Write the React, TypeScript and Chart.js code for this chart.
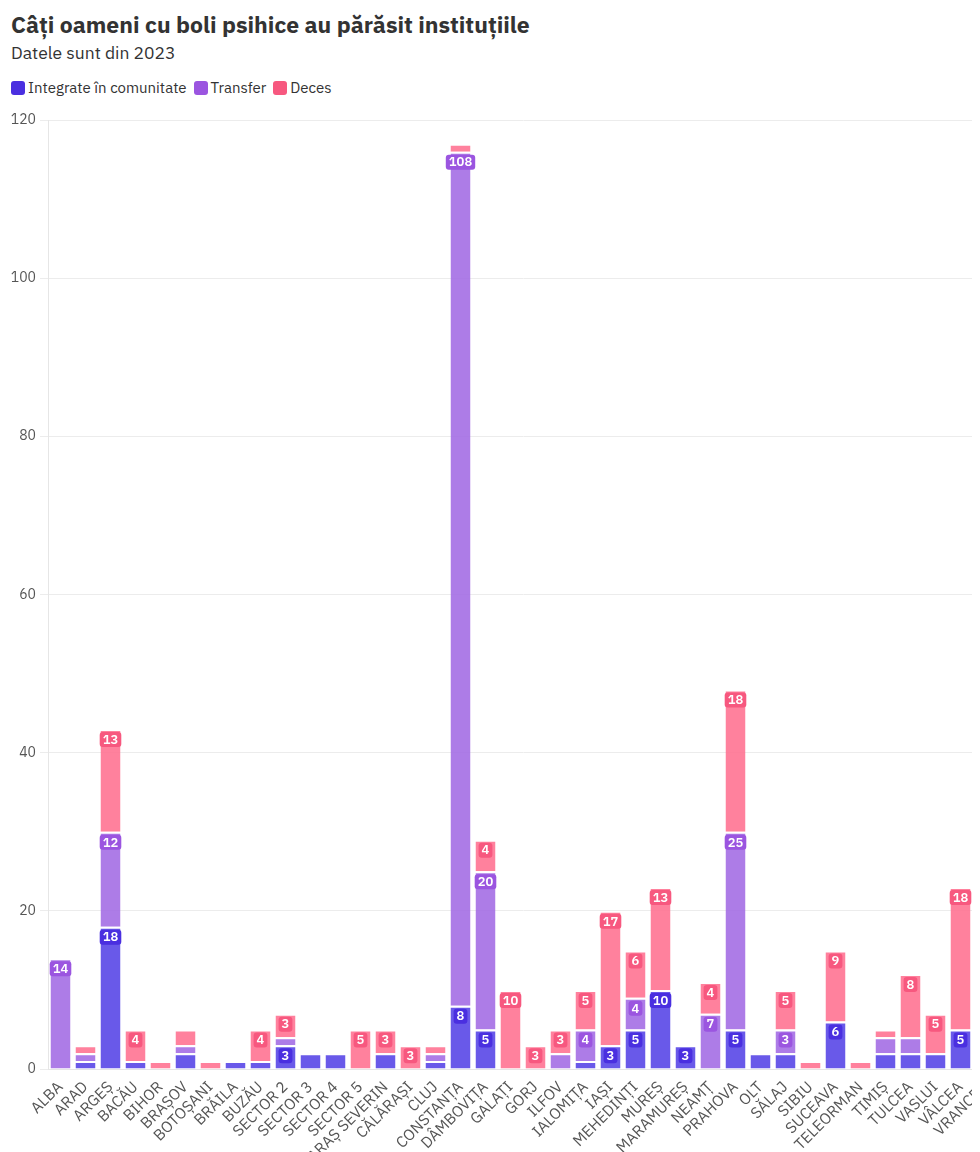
import React, { useEffect, useRef } from "react";
import { Chart, registerables } from "chart.js";

Chart.register(...registerables);

const categories = [
  "ALBA", "ARAD", "ARGEȘ", "BACĂU", "BIHOR", "BRAȘOV", "BOTOȘANI", "BRĂILA", "BUZĂU",
  "SECTOR 2", "SECTOR 3", "SECTOR 4", "SECTOR 5", "CARAȘ SEVERIN", "CĂLĂRAȘI", "CLUJ",
  "CONSTANȚA", "DÂMBOVIȚA", "GALAȚI", "GORJ", "ILFOV", "IALOMIȚA", "IAȘI", "MEHEDINȚI",
  "MUREȘ", "MARAMUREȘ", "NEAMȚ", "PRAHOVA", "OLT", "SĂLAJ", "SIBIU", "SUCEAVA",
  "TELEORMAN", "TIMIȘ", "TULCEA", "VASLUI", "VÂLCEA", "VRANCEA",
];

const integrate = [
  0, 1, 18, 1, 0, 2, 0, 1, 1,
  3, 2, 2, 0, 2, 0, 1,
  8, 5, 0, 0, 0, 1, 3, 5,
  10, 3, 0, 5, 2, 2, 0, 6,
  0, 2, 2, 2, 5, 6,
];

const transfer = [
  14, 1, 12, 0, 0, 1, 0, 0, 0,
  1, 0, 0, 0, 0, 0, 1,
  108, 20, 0, 0, 2, 4, 0, 4,
  0, 0, 7, 25, 0, 3, 0, 0,
  0, 2, 2, 0, 0, 0,
];

const deces = [
  0, 1, 13, 4, 1, 2, 1, 0, 4,
  3, 0, 0, 5, 3, 3, 1,
  1, 4, 10, 3, 3, 5, 17, 6,
  13, 0, 4, 18, 0, 5, 1, 9,
  1, 1, 8, 5, 18, 5,
];

const seriesNames = ["Integrate în comunitate", "Transfer", "Deces"];
const solidColors = ["#4a2fe0", "#9b55e0", "#f7587f"];
const barColors = ["rgba(84,66,230,0.88)", "rgba(162,106,228,0.88)", "rgba(255,112,144,0.88)"];
const yTicks = [0, 20, 40, 60, 80, 100, 120];

const FONT = "'IBM Plex Sans', 'Open Sans', 'Noto Sans', sans-serif";

const labelPlugin = {
  id: "segLabels",
  afterDatasetsDraw(chart: any) {
    const ctx = chart.ctx;
    ctx.save();
    ctx.font = `600 13px ${FONT}`;
    ctx.textAlign = "center";
    ctx.textBaseline = "middle";
    chart.data.datasets.forEach((ds: any, di: number) => {
      const meta = chart.getDatasetMeta(di);
      meta.data.forEach((el: any, i: number) => {
        const v = ds.data[i];
        if (!v || v < 3) return;
        const txt = String(v);
        const w = ctx.measureText(txt).width + 6;
        const h = 15;
        const cy = el.y + 10.5;
        const x = el.x - w / 2;
        const y = cy - h / 2;
        ctx.fillStyle = solidColors[di];
        ctx.beginPath();
        if (ctx.roundRect) ctx.roundRect(x, y, w, h, 3);
        else ctx.rect(x, y, w, h);
        ctx.fill();
        ctx.fillStyle = "#ffffff";
        ctx.fillText(txt, el.x, cy + 0.5);
      });
    });
    ctx.restore();
  },
};

export default function App() {
  const ref = useRef<HTMLCanvasElement | null>(null);

  useEffect(() => {
    document.documentElement.style.overflow = "hidden";
    const canvas = ref.current;
    if (!canvas) return;
    const datasets = [integrate, transfer, deces].map((d, i) => ({
      label: seriesNames[i],
      data: d,
      backgroundColor: barColors[i],
      borderColor: "#ffffff",
      borderWidth: { top: 2, left: 0, right: 0, bottom: 0 },
      borderSkipped: "start",
      categoryPercentage: 1,
      barPercentage: 0.8,
    }));
    const chart = new Chart(canvas, {
      type: "bar",
      data: { labels: categories, datasets },
      plugins: [labelPlugin],
      options: {
        animation: false,
        responsive: false,
        maintainAspectRatio: false,
        layout: { padding: { left: 0, right: 10, top: 20, bottom: 0 } },
        plugins: {
          legend: { display: false },
          tooltip: { enabled: false },
        },
        scales: {
          x: {
            stacked: true,
            afterFit: (axis: any) => {
              axis.height = 100;
            },
            grid: { display: false, drawTicks: true, tickLength: 6, color: "#e6e6e6" },
            border: { display: true, color: "#e6e6e6" },
            ticks: {
              color: "#555555",
              font: { family: FONT, size: 15.5 },
              maxRotation: 45,
              minRotation: 45,
              autoSkip: false,
              padding: 3,
            },
          },
          y: {
            stacked: true,
            min: 0,
            max: 120,
            afterFit: (axis: any) => {
              axis.width = 40;
            },
            afterBuildTicks: (axis: any) => {
              axis.ticks = yTicks.map((v) => ({ value: v }));
            },
            grid: { color: "#ececec", tickLength: 8 },
            border: { display: true, color: "#e6e6e6" },
            ticks: {
              color: "#555555",
              font: { family: FONT, size: 14 },
              padding: 4,
            },
          },
        },
      },
    } as any);
    return () => chart.destroy();
  }, []);

  const legendItem = (name: string, i: number) => (
    <span key={name} style={{ display: "inline-flex", alignItems: "center", marginRight: 7 }}>
      <span
        style={{
          display: "inline-block",
          width: 14,
          height: 14,
          borderRadius: 3,
          background: solidColors[i],
          marginRight: 3,
        }}
      />
      <span>{name}</span>
    </span>
  );

  return (
    <div style={{ position: "relative", width: 1000, height: 1161, fontFamily: FONT, color: "#333333" }}>
      <div style={{ position: "absolute", left: 3, top: 2, fontSize: 23, fontWeight: 700, lineHeight: "28px", whiteSpace: "nowrap" }}>
        Câți oameni cu boli psihice au părăsit instituțiile
      </div>
      <div style={{ position: "absolute", left: 3, top: 34, fontSize: 17.5, lineHeight: "22px", whiteSpace: "nowrap" }}>
        Datele sunt din 2023
      </div>
      <div style={{ position: "absolute", left: 3, top: 70, fontSize: 15, lineHeight: "20px", whiteSpace: "nowrap", display: "flex" }}>
        {seriesNames.map(legendItem)}
      </div>
      <div style={{ position: "absolute", left: 0, top: 92 }}>
        <canvas ref={ref} width={1000} height={1069} style={{ display: "block" }} />
      </div>
    </div>
  );
}
